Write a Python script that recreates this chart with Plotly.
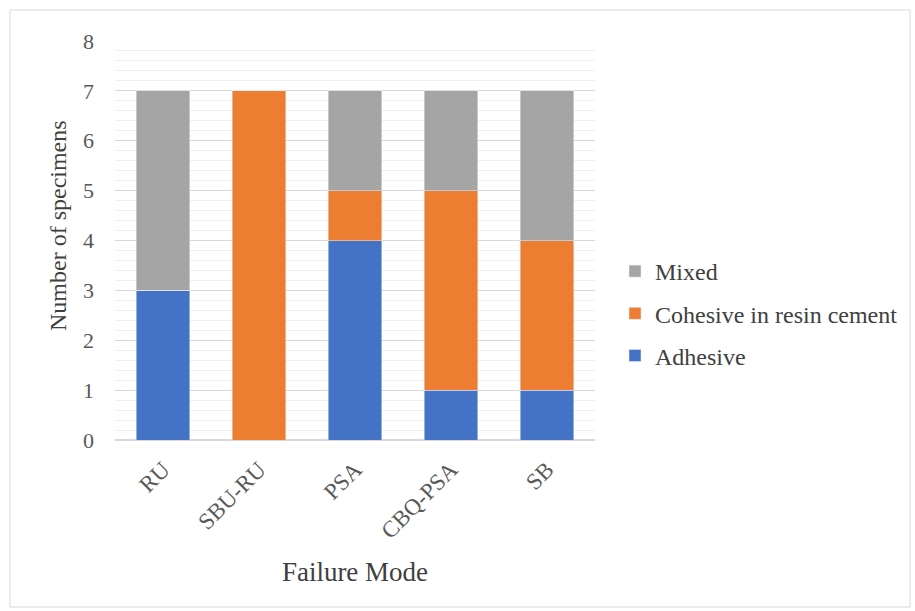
import plotly.graph_objects as go

categories = ["RU", "SBU-RU", "PSA", "CBQ-PSA", "SB"]
adhesive = [3, 0, 4, 1, 1]
cohesive = [0, 7, 1, 4, 3]
mixed = [4, 0, 2, 2, 3]

FONT = "Liberation Serif"
W, H = 915, 611
L, R, T, B = 115, 320, 41, 171
pw, ph = W - L - R, H - T - B

fig = go.Figure()
fig.add_bar(name="Adhesive", x=categories, y=adhesive, marker_color="#4472C4",
            legendgroup="a", legendrank=3)
fig.add_bar(name="Cohesive in resin cement", x=categories, y=cohesive, marker_color="#ED7D31",
            legendgroup="c", legendrank=2)
fig.add_bar(name="Mixed", x=categories, y=mixed, marker_color="#A5A5A5",
            legendgroup="m", legendrank=1)

# outer chart frame
fig.add_shape(type="rect", xref="paper", yref="paper",
              x0=(10 - L) / pw, x1=(910 - L) / pw,
              y0=(H - B - 607) / ph, y1=(H - B - 10) / ph,
              line=dict(color="#D9D9D9", width=1), layer="below")

# vertical axis title
fig.add_annotation(text="Number of specimens", textangle=-90, showarrow=False,
                   xref="paper", yref="paper",
                   x=(58 - L) / pw, y=(H - B - 226) / ph,
                   xanchor="center", yanchor="middle",
                   font=dict(size=24, color="#404040", family=FONT))

fig.update_layout(
    width=W, height=H,
    margin=dict(l=L, r=R, t=T, b=B),
    barmode="stack", bargap=0.44,
    plot_bgcolor="white", paper_bgcolor="white",
    font=dict(family=FONT, color="#595959", size=22),
    legend=dict(x=(615 - L) / pw, xanchor="left", y=(H - B - 249) / ph, yanchor="top",
                traceorder="grouped", font=dict(size=24, color="#404040"),
                itemwidth=30, tracegroupgap=8),
    xaxis=dict(
        title=dict(text="Failure Mode", font=dict(size=27, color="#404040"), standoff=19),
        tickangle=-45, showline=True, linecolor="#D9D9D9", linewidth=1,
        tickfont=dict(size=23, color="#595959"), ticklabelstandoff=6,
    ),
    yaxis=dict(
        range=[0, 8], dtick=1, tickfont=dict(size=22, color="#595959"),
        showgrid=True, gridcolor="#D9D9D9", gridwidth=1,
        minor=dict(dtick=0.2, showgrid=True, gridcolor="#EFEFEF", gridwidth=1),
        zeroline=True, zerolinecolor="#D9D9D9", ticks="", ticklabelstandoff=20,
    ),
)

fig.write_html("out.html")
